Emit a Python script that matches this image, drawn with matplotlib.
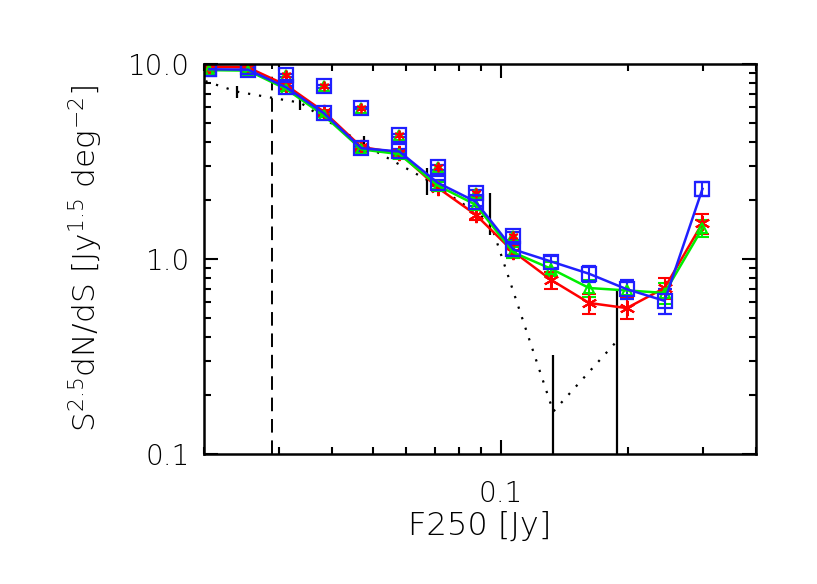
import matplotlib
matplotlib.use("Agg")
import matplotlib.pyplot as plt
from matplotlib.ticker import FixedLocator, FixedFormatter, NullFormatter, LogLocator
import numpy as np

# ---- data ----
flux = [0.0206, 0.0254, 0.0312, 0.0383, 0.0470, 0.0577, 0.0711, 0.0873,
        0.1072, 0.1317, 0.1617, 0.1983, 0.2435, 0.2991]

blue_y = [9.40, 9.35, 7.60, 5.60, 3.70, 3.56, 2.46, 1.97, 1.12, 0.97, 0.84, 0.70, 0.61, 2.29]
blue_err = [0.15, 0.15, 0.15, 0.12, 0.10, 0.10, 0.09, 0.09, 0.07, 0.07, 0.08, 0.08, 0.09, 0.18]
green_y = [9.30, 9.25, 7.45, 5.45, 3.65, 3.45, 2.38, 1.90, 1.08, 0.89, 0.71, 0.69, 0.67, 1.44]
green_err = [0.15, 0.15, 0.15, 0.12, 0.10, 0.10, 0.09, 0.10, 0.07, 0.07, 0.07, 0.07, 0.08, 0.15]
red_y = [9.70, 9.60, 7.80, 5.70, 3.75, 3.50, 2.32, 1.69, 1.09, 0.78, 0.595, 0.56, 0.71, 1.53]
red_err = [0.15, 0.15, 0.15, 0.12, 0.10, 0.10, 0.09, 0.11, 0.08, 0.08, 0.07, 0.07, 0.09, 0.18]

raw_flux = [0.0206, 0.0254, 0.0312, 0.0383, 0.0470, 0.0577, 0.0711, 0.0873, 0.1072]
raw_y = [9.40, 9.70, 8.74, 7.68, 5.95, 4.30, 2.95, 2.18, 1.31]
raw_err = [0.15, 0.15, 0.14, 0.12, 0.10, 0.10, 0.08, 0.07, 0.06]

model_flux = [0.01698, 0.02394, 0.03375, 0.04756, 0.0670, 0.0945, 0.1331, 0.1883]
model_y = [9.25, 7.21, 6.33, 3.86, 2.55, 1.55, 0.165, 0.381]
model_lo = [9.0, 6.70, 5.83, 3.64, 2.14, 1.33, 0.05, 0.05]
model_hi = [9.5, 7.75, 6.78, 4.25, 2.94, 2.19, 0.32, 0.688]

cut_flux = 0.0289

# ---- figure ----
plt.rcParams['font.family'] = ['DejaVu Sans']
plt.rcParams['mathtext.default'] = 'regular'
fig = plt.figure(figsize=(8.17, 5.84), dpi=100)
ax = fig.add_axes([0.2497, 0.2226, 0.6757, 0.6678])
ax.set_xscale('log')
ax.set_yscale('log')
ax.set_xlim(0.02, 0.4)
ax.set_ylim(0.1, 10.0)

# dashed completeness line
ax.axvline(cut_flux, color='black', ls=(0, (7, 4)), lw=1.4)

# model dotted line with bars
ax.plot(model_flux, model_y, color='black', ls=(0, (1, 4)), lw=1.6)
ax.vlines(model_flux, model_lo, model_hi, color='black', lw=1.6)

# colored lines
ax.errorbar(flux, red_y, yerr=red_err, color='#ff0000', marker=(6, 2, 0), ms=11, mew=1.5,
            lw=1.8, capsize=5, elinewidth=1.5, capthick=1.5)
ax.errorbar(flux, green_y, yerr=green_err, color='#00ee00', marker='^', ms=7, mfc='none', mew=1.5,
            lw=1.8, capsize=5, elinewidth=1.5, capthick=1.5)
ax.errorbar(flux, blue_y, yerr=blue_err, color='#2020ff', marker='s', ms=10, mfc='none', mew=1.6,
            lw=1.8, capsize=5, elinewidth=1.5, capthick=1.5)

# raw symbols without lines
ax.errorbar(raw_flux, raw_y, yerr=raw_err, color='#2020ff', marker='s', ms=10, mfc='none', mew=1.6,
            ls='none', capsize=4, elinewidth=1.3)
ax.plot(raw_flux, raw_y, color='#00ee00', marker='^', ms=7, mfc='none', mew=1.4, ls='none')
ax.plot(raw_flux, raw_y, color='#ff0000', marker=(6, 2, 0), ms=7, mew=1.3, ls='none')

# axes style
for s in ax.spines.values():
    s.set_linewidth(1.8)
ax.tick_params(which='both', direction='in', top=True, right=True, width=1.5,
               labelsize=20)
ax.tick_params(axis='y', pad=10)
ax.tick_params(axis='x', pad=19)
ax.tick_params(which='major', length=10)
ax.tick_params(which='minor', length=5)

ax.yaxis.set_major_locator(FixedLocator([0.1, 1.0, 10.0]))
ax.yaxis.set_major_formatter(FixedFormatter(['0.1', '1.0', '10.0']))
ax.yaxis.set_minor_locator(LogLocator(base=10, subs=np.arange(2, 10)))
ax.yaxis.set_minor_formatter(NullFormatter())
ax.xaxis.set_major_locator(FixedLocator([0.1]))
ax.xaxis.set_major_formatter(FixedFormatter(['0.1']))
ax.xaxis.set_minor_locator(LogLocator(base=10, subs=np.arange(2, 10)))
ax.xaxis.set_minor_formatter(NullFormatter())
for lab in ax.get_xticklabels() + ax.get_yticklabels():
    lab.set_fontweight('light')

ax.set_xlabel('F250 [Jy]', fontsize=23, fontweight='light', labelpad=2)
ax.set_ylabel('S$^{2.5}$dN/dS [Jy$^{1.5}$ deg$^{-2}$]', fontsize=22.5, fontweight='light', labelpad=17)

fig.savefig('out.png', dpi=100)
